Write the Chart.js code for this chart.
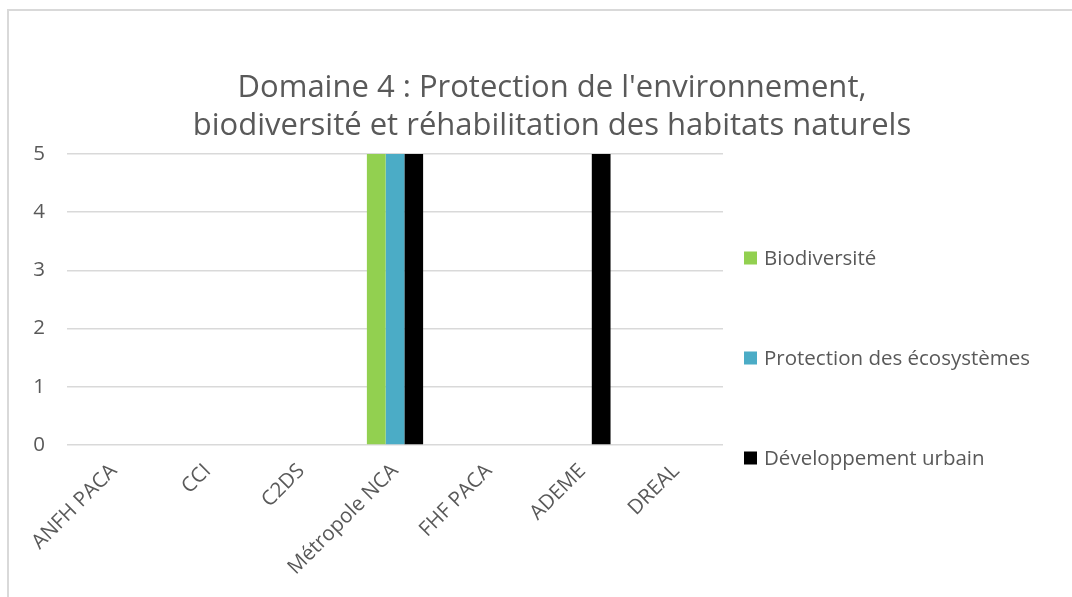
<!DOCTYPE html>
<html>
<head>
<meta charset="utf-8">
<script src="https://cdn.jsdelivr.net/npm/chart.js@4"></script>
<style>
  html, body { margin: 0; padding: 0; background: #fff; overflow: hidden; }
  #frame { position: absolute; left: 7px; top: 9px; width: 1088px; height: 600px;
           border-left: 2px solid #d9d9d9; border-top: 2px solid #d9d9d9; box-sizing: border-box; }
  #wrap { position: absolute; left: 0; top: 0; width: 1086px; height: 598px; }
</style>
</head>
<body>
<div id="frame"><div id="wrap"><canvas id="c"></canvas></div></div>
<script>
const titleLines = ["Domaine 4 : Protection de l'environnement,", "biodiversité et réhabilitation des habitats naturels"];
const categories = ["ANFH PACA", "CCI", "C2DS", "Métropole NCA", "FHF PACA", "ADEME", "DREAL"];
const seriesNames = ["Biodiversité", "Protection des écosystèmes", "Développement urbain"];
const biodiversite = [0, 0, 0, 5, 0, 0, 0];
const protectionEcosystemes = [0, 0, 0, 5, 0, 0, 0];
const developpementUrbain = [0, 0, 0, 5, 0, 5, 0];
const yTicks = [0, 1, 2, 3, 4, 5];
const seriesColors = ["#92D050", "#4BACC6", "#000000"];

const TEXT = "#595959";
const FONT = "'Open Sans', 'DejaVu Sans', sans-serif";
const LABEL_SIZE = 20.5;

// Right-hand legend as a proper layout box (reserves space beside the plot only)
const sideLegend = {
  id: 'sideLegend',
  beforeInit(chart) {
    const box = {
      position: 'right',
      weight: 1000,
      fullSize: false,
      options: { stack: undefined, stackWeight: 1 },
      left: 0, top: 0, right: 0, bottom: 0, width: 0, height: 0,
      isHorizontal() { return false; },
      update(maxWidth, maxHeight) {
        this.width = 372;
        this.height = maxHeight;
      },
      draw() {
        const ctx = chart.ctx;
        const x0 = this.left + 21;
        const firstY = chart.chartArea.top + 104;
        const step = 100;
        ctx.save();
        ctx.font = LABEL_SIZE + "px " + FONT;
        ctx.textBaseline = 'middle';
        ctx.textAlign = 'left';
        chart.data.datasets.forEach((ds, i) => {
          const cy = firstY + i * step;
          ctx.fillStyle = ds.backgroundColor;
          ctx.fillRect(x0, cy - 6.5, 13, 13);
          ctx.fillStyle = TEXT;
          ctx.fillText(ds.label, x0 + 20, cy + 1);
        });
        ctx.restore();
      }
    };
    Chart.layouts.addBox(chart, box);
  }
};

const datasets = [biodiversite, protectionEcosystemes, developpementUrbain].map((vals, i) => ({
  label: seriesNames[i],
  data: vals,
  backgroundColor: seriesColors[i],
  borderWidth: 0,
  categoryPercentage: 0.6,
  barPercentage: 1.0
}));

new Chart(document.getElementById('c'), {
  type: 'bar',
  data: { labels: categories, datasets },
  plugins: [sideLegend],
  options: {
    responsive: true,
    maintainAspectRatio: false,
    animation: false,
    layout: { padding: 0 },
    plugins: {
      legend: { display: false },
      tooltip: { enabled: false },
      title: {
        display: true,
        text: titleLines,
        color: TEXT,
        font: { family: FONT, size: 31, weight: 'normal', lineHeight: 1.2 },
        padding: { top: 59, bottom: 9.6 }
      }
    },
    scales: {
      x: {
        grid: { display: false },
        border: { display: false },
        ticks: {
          color: TEXT,
          font: { family: FONT, size: LABEL_SIZE },
          minRotation: 45,
          maxRotation: 45,
          autoSkip: false,
          padding: 6
        },
        afterFit(scale) { scale.height = 164; }
      },
      y: {
        min: 0,
        max: 5,
        afterBuildTicks(scale) { scale.ticks = yTicks.map(v => ({ value: v })); },
        grid: { color: "#d9d9d9", lineWidth: 1.5, drawTicks: false },
        border: { display: false },
        ticks: {
          color: TEXT,
          font: { family: FONT, size: LABEL_SIZE },
          padding: 22
        },
        afterFit(scale) { scale.width = 58; }
      }
    }
  }
});
</script>
</body>
</html>
